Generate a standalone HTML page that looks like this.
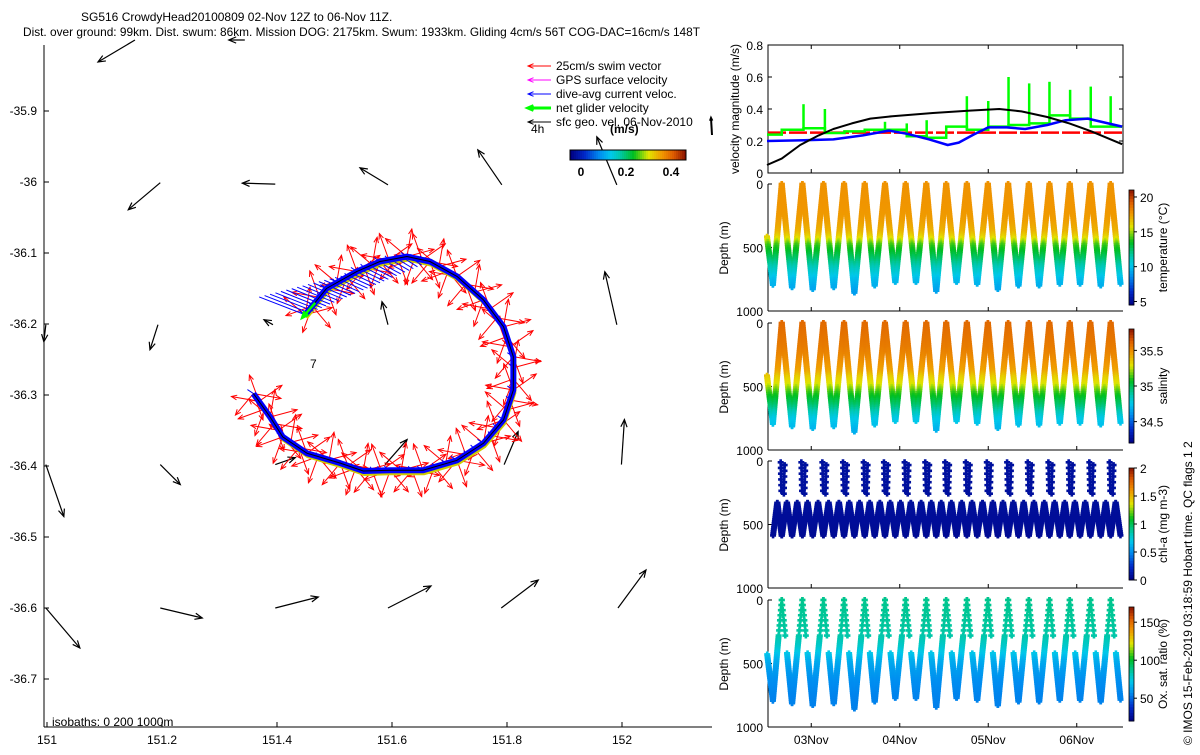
<!DOCTYPE html>
<html><head><meta charset="utf-8">
<style>
html,body{margin:0;padding:0;background:#fff;}
svg text{font-family:"Liberation Sans",sans-serif;font-size:12px;fill:#000;}
</style></head>
<body>
<svg id="root" width="1200" height="750" viewBox="0 0 1200 750" xmlns="http://www.w3.org/2000/svg">
<g id="static"></g>
</svg>
<script>
// ===== Data =====
const geoT=[0,4,9,14,18,23,28,34,45,55,63,69,76,82,88,96.3];
const geoV=[0.05,0.09,0.175,0.235,0.275,0.31,0.34,0.355,0.375,0.39,0.40,0.385,0.35,0.31,0.26,0.18];
const dacT=[0,10,18,26,33,38,44,49,52,56,60,65,70,76,81,87,96.3];
const dacV=[0.20,0.205,0.21,0.235,0.265,0.245,0.21,0.175,0.19,0.24,0.285,0.285,0.275,0.30,0.33,0.34,0.29];
const swimV=[0.252];
const netT=[0,4,9.9,15.7,21,26.5,32,37.9,43.3,48.6,54.2,60,65.5,71.1,76.6,82.2,87.8,93.2];
const netV=[0.24,0.27,0.28,0.25,0.26,0.27,0.27,0.23,0.22,0.29,0.27,0.29,0.30,0.31,0.36,0.34,0.29,0.29];
const spikeT=[9.9,15.7,32,37.9,43.3,54.2,60,65.5,71.1,76.6,82.2,87.8,93.2];
const spikeV=[0.43,0.40,0.32,0.31,0.33,0.48,0.45,0.60,0.56,0.57,0.52,0.54,0.48];
const surfT=[4.0,9.6,15.3,20.9,26.5,32.0,37.6,43.2,48.6,54.2,59.9,65.4,71.0,76.6,82.1,87.7,93.2];
const troughT=[1.6,6.8,12.4,18.1,23.7,29.2,34.8,40.4,45.9,51.4,57.0,62.6,68.2,73.8,79.4,84.9,90.5,95.9];
const troughD=[795,822,835,822,861,808,782,782,848,782,795,835,808,808,795,795,808,795];
const startD=415;
const profDepth=[0,200,300,380,430,480,550,650,750,870];
const tempVal=[17.8,17.7,17.5,17.0,16.0,14.2,13.2,11.5,10.0,9.0];
const salVal=[35.6,35.55,35.5,35.45,35.35,35.3,35.13,34.97,34.78,34.68];
const chlVal=[0.1,0.1,0.09,0.09,0.08,0.08,0.07,0.06,0.05,0.05];
const oxyVal=[88,86,84,78,72,66,62,58,56,55];
const trackLon=[151.449,151.486,151.539,151.579,151.626,151.666,151.713,151.759,151.794,151.811,151.811,151.794,151.759,151.713,151.654,151.597,151.550,151.510,151.452,151.410,151.388,151.359];
const trackLat=[-36.187,-36.150,-36.126,-36.112,-36.105,-36.112,-36.133,-36.166,-36.204,-36.246,-36.293,-36.335,-36.368,-36.392,-36.406,-36.406,-36.407,-36.396,-36.382,-36.359,-36.331,-36.298];
const swimAngles=[15,80,140,200,250,310,35,110,170,230,290,350];
const geoLon=[151.153,151.344,151.197,151.397,151.593,151.791,151.991,151.193,151.393,151.593,151.991,150.998,151.197,151.397,151.588,151.795,151.999,150.998,151.197,151.397,151.593,151.790,151.993,150.998];
const geoLat=[-35.8,-35.8,-36.001,-36.003,-36.004,-36.004,-36.004,-36.201,-36.201,-36.201,-36.201,-36.201,-36.398,-36.398,-36.398,-36.398,-36.398,-36.398,-36.600,-36.600,-36.600,-36.600,-36.600,-36.600];
const geoU=[-0.37,-0.16,-0.32,-0.33,-0.28,-0.24,-0.20,-0.08,-0.09,-0.06,-0.12,-0.02,0.20,0.20,0.22,0.14,0.03,0.18,0.42,0.43,0.43,0.37,0.28,0.34];
const geoVv=[-0.22,0.0,-0.27,0.01,0.17,0.35,0.48,-0.25,0.05,0.23,0.53,-0.17,-0.20,0.07,0.25,0.33,0.45,-0.52,-0.10,0.11,0.22,0.28,0.38,-0.40];
const latTicks=[-35.9,-36,-36.1,-36.2,-36.3,-36.4,-36.5,-36.6,-36.7];
const lonTicks=[151,151.2,151.4,151.6,151.8,152];
const dayTicks=[12,36,60,84];
const dayLabels=['03Nov','04Nov','05Nov','06Nov'];

// ===== helpers =====
const NS='http://www.w3.org/2000/svg';
const root=document.getElementById('static');
function mk(tag,attrs,parent){const e=document.createElementNS(NS,tag);for(const k in attrs)e.setAttribute(k,attrs[k]);(parent||root).appendChild(e);return e;}
function txt(x,y,s,attrs,parent){const e=mk('text',Object.assign({x:x,y:y},attrs||{}),parent);e.textContent=s;return e;}
const cmS=[0,0.12,0.25,0.35,0.42,0.55,0.68,0.8,0.9,1];
const cmC=[[0,0,128],[0,40,200],[0,140,240],[0,200,235],[0,200,180],[0,190,30],[225,230,0],[240,150,0],[220,90,0],[140,20,0]];
function jet(t){t=Math.max(0,Math.min(1,t));for(let i=1;i<cmS.length;i++){if(t<=cmS[i]){const f=(t-cmS[i-1])/(cmS[i]-cmS[i-1]);const a=cmC[i-1],b=cmC[i];return 'rgb('+Math.round(a[0]+f*(b[0]-a[0]))+','+Math.round(a[1]+f*(b[1]-a[1]))+','+Math.round(a[2]+f*(b[2]-a[2]))+')';}}return 'rgb(140,20,0)';}
function interp(xs,ys,x){if(x<=xs[0])return ys[0];for(let i=1;i<xs.length;i++){if(x<=xs[i]){const f=(x-xs[i-1])/(xs[i]-xs[i-1]);return ys[i-1]+f*(ys[i]-ys[i-1]);}}return ys[ys.length-1];}
function arrow(g,x1,y1,x2,y2,col,w,hl){const a=Math.atan2(y2-y1,x2-x1);const L=Math.hypot(x2-x1,y2-y1);const h=hl||Math.min(8,L*0.35);mk('line',{x1:x1,y1:y1,x2:x2,y2:y2,stroke:col,'stroke-width':w},g);mk('path',{d:'M'+(x2-h*Math.cos(a-0.4))+' '+(y2-h*Math.sin(a-0.4))+'L'+x2+' '+y2+'L'+(x2-h*Math.cos(a+0.4))+' '+(y2-h*Math.sin(a+0.4)),fill:'none',stroke:col,'stroke-width':w},g);}

// ===== titles =====
const title=mk('g',{});


txt(81,21,'SG516 CrowdyHead20100809 02-Nov 12Z to 06-Nov 11Z.',{},title);
txt(23,36,'Dist. over ground: 99km. Dist. swum: 86km. Mission DOG: 2175km. Swum: 1933km. Gliding 4cm/s 56T COG-DAC=16cm/s 148T',{textLength:677,lengthAdjust:'spacingAndGlyphs'},title);

// ===== map =====
const mapL=44,mapB=727,mapR=712,mapT=45;
const lonX=lon=>47+(lon-151)*575;
const latY=lat=>111+(-35.9-lat)*710;
const map=mk('g',{});


mk('line',{x1:mapL,y1:mapT,x2:mapL,y2:mapB,stroke:'#000','stroke-width':1},map);
mk('line',{x1:mapL,y1:mapB,x2:mapR,y2:mapB,stroke:'#000','stroke-width':1},map);
latTicks.forEach(v=>{const y=latY(v);mk('line',{x1:mapL,y1:y,x2:mapL+5,y2:y,stroke:'#000'},map);const t=txt(37,y+4,String(v),{'text-anchor':'end'},map);});
lonTicks.forEach(v=>{const x=lonX(v);mk('line',{x1:x,y1:mapB,x2:x,y2:mapB-5,stroke:'#000'},map);const t=txt(x,744,String(v),{'text-anchor':'middle'},map);});
txt(52,726,'isobaths: 0   200  1000m',{'xml:space':'preserve'},map);
txt(310,368,'7',{},map);
const geoG=mk('g',{},map);


for(let i=0;i<geoLon.length;i++){const x=lonX(geoLon[i]),y=latY(geoLat[i]);arrow(geoG,x,y,x+geoU[i]*100,y-geoVv[i]*100,'#000',1.2,8);}
const tp=trackLon.map((lo,i)=>[lonX(lo),latY(trackLat[i])]);
const samples=[];
for(let i=0;i<tp.length-1;i++){for(let k=0;k<3;k++){const f=k/3;samples.push([tp[i][0]+f*(tp[i+1][0]-tp[i][0]),tp[i][1]+f*(tp[i+1][1]-tp[i][1])]);}}
samples.push(tp[tp.length-1]);
const swimG=mk('g',{},map);


samples.forEach((p,i)=>{for(let k=0;k<3;k++){const a=swimAngles[(i*3+k)%swimAngles.length]*Math.PI/180;arrow(swimG,p[0],p[1],p[0]+28*Math.cos(a),p[1]-28*Math.sin(a),'#f00',1,6);}});
const dacG=mk('g',{},map);


const ptsStr=tp.map(p=>p[0]+','+p[1]).join(' ');
mk('polyline',{points:tp.map(p=>(p[0]+1)+','+(p[1]+3)).join(' '),fill:'none',stroke:'#cccc00','stroke-width':4},dacG);
// hatch region in the first part of the track
for(let i=0;i<30;i++){const f=i/30;const p=[tp[0][0]+f*(tp[5][0]-tp[0][0]),tp[0][1]+f*(tp[5][1]-tp[0][1])];const len=38*(1-f)+8;mk('line',{x1:p[0],y1:p[1],x2:p[0]-len,y2:p[1]-len*0.3-4,stroke:'#0000ff','stroke-width':1},dacG);}
samples.forEach((p,i)=>{mk('line',{x1:p[0],y1:p[1],x2:p[0]-6+(i%3)*2,y2:p[1]-4,stroke:'#0000ff','stroke-width':1},dacG);});
mk('polyline',{points:ptsStr,fill:'none',stroke:'#0000ff','stroke-width':6,'stroke-linejoin':'round'},dacG);
mk('polyline',{points:ptsStr,fill:'none',stroke:'#000','stroke-width':1},dacG);
arrow(dacG,tp[0][0]+10,tp[0][1]-12,tp[0][0]-3,tp[0][1]+3,'#00ff00',2.5,7);
const leg=mk('g',{},map);


const legItems=[['25cm/s swim vector','#f00',1],['GPS surface velocity','#f0f',1],['dive-avg current veloc.','#00f',1],['net glider velocity','#0f0',3],['sfc geo. vel. 06-Nov-2010','#000',1]];
legItems.forEach((it,i)=>{const y=66+i*14;arrow(leg,551,y,528,y,it[1],it[2],6);txt(556,y+4,it[0],{},leg);});
txt(531,133,'4h',{},leg);
txt(610,133,'(m/s)',{'font-weight':'bold'},leg);
arrow(leg,712,135,711,118,'#000',2,3);
const cb=mk('g',{},map);


for(let i=0;i<58;i++){mk('rect',{x:570+i*2,y:150,width:2.2,height:10,fill:jet(i/57)},cb);}
mk('rect',{x:570,y:150,width:116,height:10,fill:'none',stroke:'#000'},cb);
[['0',581],['0.2',626],['0.4',671]].forEach(t=>txt(t[1],176,t[0],{'text-anchor':'middle','font-weight':'bold','font-size':'13px'},cb));

// ===== right panels =====
const pL=768,pR=1123;
const tX=h=>767+h*3.6875;
const vp=mk('g',{});


const vT=45,vB=173;const vY=v=>vB-v*(vB-vT)/0.8;
mk('rect',{x:pL,y:vT,width:pR-pL,height:vB-vT,fill:'none',stroke:'#000'},vp);
[0,0.2,0.4,0.6,0.8].forEach(v=>{const y=vY(v);mk('line',{x1:pL,y1:y,x2:pL+4,y2:y,stroke:'#000'},vp);mk('line',{x1:pR,y1:y,x2:pR-4,y2:y,stroke:'#000'},vp);txt(763,y+5,String(v),{'text-anchor':'end'},vp);});
dayTicks.forEach(h=>{mk('line',{x1:tX(h),y1:vB,x2:tX(h),y2:vB-4,stroke:'#000'},vp);mk('line',{x1:tX(h),y1:vT,x2:tX(h),y2:vT+4,stroke:'#000'},vp);});
txt(0,0,'velocity magnitude (m/s)',{transform:'translate(739,109) rotate(-90)','text-anchor':'middle'},vp);
const swimLine=mk('line',{x1:pL,y1:vY(swimV[0]),x2:pR,y2:vY(swimV[0]),stroke:'#f00','stroke-width':2.5,'stroke-dasharray':'18 3'},vp);


let gd='';netT.forEach((t,i)=>{const x=tX(t),y=vY(netV[i]);if(i===0)gd+='M'+x+' '+y;else gd+='L'+x+' '+vY(netV[i-1])+'L'+x+' '+y;});gd+='L'+tX(96.3)+' '+vY(netV[netV.length-1]);
const netLine=mk('path',{d:gd,fill:'none',stroke:'#00ff00','stroke-width':2.5},vp);


spikeT.forEach((t,i)=>{const sp=mk('line',{x1:tX(t),y1:vY(interp(netT,netV,t-0.3)),x2:tX(t),y2:vY(spikeV[i]),stroke:'#00ff00','stroke-width':2.5},vp);});
const dl=mk('polyline',{points:dacT.map((t,i)=>tX(t)+','+vY(dacV[i])).join(' '),fill:'none',stroke:'#0000ff','stroke-width':2.5,'stroke-linejoin':'round'},vp);


const gl=mk('polyline',{points:geoT.map((t,i)=>tX(t)+','+vY(geoV[i])).join(' '),fill:'none',stroke:'#000','stroke-width':2,'stroke-linejoin':'round'},vp);



function depthPanel(name,top,vals,vmin,vmax,mode){
  const g=mk('g',{});
  
  
  const bot=top+127;const dY=d=>top+d*0.127;
  mk('line',{x1:pL,y1:top,x2:pL,y2:bot,stroke:'#000'},g);
  mk('line',{x1:pL,y1:bot,x2:pR,y2:bot,stroke:'#000'},g);
  [0,500,1000].forEach(d=>{mk('line',{x1:pL,y1:dY(d),x2:pL+4,y2:dY(d),stroke:'#000'},g);txt(763,dY(d)+5,String(d),{'text-anchor':'end'},g);});
  dayTicks.forEach(h=>mk('line',{x1:tX(h),y1:bot,x2:tX(h),y2:bot-4,stroke:'#000'},g));
  txt(0,0,'Depth (m)',{transform:'translate(728,'+(top+64)+') rotate(-90)','text-anchor':'middle'},g);
  const col=d=>jet((interp(profDepth,vals,d)-vmin)/(vmax-vmin));
  const pts=mk('g',{},g);
  
  
  function dot(x,y,c){mk('path',{d:'M'+(x-3)+' '+y+'h6M'+x+' '+(y-3)+'v6',stroke:c,'stroke-width':2.6},pts);}
  if(mode==='chl'){
    const zz=[];for(let i=0;i<troughT.length;i++){zz.push([troughT[i],596]);if(i<surfT.length){zz.push([(troughT[i]+surfT[i])/2,320]);zz.push([surfT[i],596]);zz.push([(surfT[i]+troughT[i+1])/2,320]);}}
    for(let i=0;i<zz.length-1;i++){const a=zz[i],b=zz[i+1];for(let d=330;d<=596;d+=16){const f=(d-a[1])/(b[1]-a[1]);const tt=a[0]+f*(b[0]-a[0]);dot(tX(tt),dY(d),col(d));}}
    surfT.forEach(t=>{for(let d=10;d<280;d+=45){dot(tX(t-0.3+d/1200),dY(d),col(d));dot(tX(t+0.8-d/1000),dY(d+22),col(d));}});
    return g;
  }
  const seq=[[0,startD]];troughT.forEach((t,i)=>{seq.push([t,troughD[i]]);if(i<surfT.length)seq.push([surfT[i],0]);});
  for(let i=0;i<seq.length-1;i++){const a=seq[i],b=seq[i+1];const d0=Math.min(a[1],b[1]),d1=Math.max(a[1],b[1]);
    for(let d=d0;d<=d1;){if(!(mode==='oxy'&&d>280&&d<420&&i%2===0))dot(tX(a[0]+(d-a[1])/(b[1]-a[1])*(b[0]-a[0])),dY(d),col(d));d+=(mode==='oxy'&&d<280?40:14);}}
  return g;
}
function colorbar(name,top,bot,vmin,vmax,ticks,label){
  const g=mk('g',{});
  
  
  const n=40;for(let i=0;i<n;i++){mk('rect',{x:1129,y:bot-(i+1)*(bot-top)/n,width:5,height:(bot-top)/n+0.5,fill:jet((i+0.5)/n)},g);}
  mk('rect',{x:1129,y:top,width:5,height:bot-top,fill:'none',stroke:'#000','stroke-width':0.8},g);
  ticks.forEach(v=>{const y=bot-(v-vmin)/(vmax-vmin)*(bot-top);mk('line',{x1:1134,y1:y,x2:1137,y2:y,stroke:'#000'},g);txt(1140,y+5,String(v),{},g);});
  txt(0,0,label,{transform:'translate(1167,'+((top+bot)/2)+') rotate(-90)','text-anchor':'middle'},g);
}
depthPanel('temperature-section',184,tempVal,4.5,21,'v');
colorbar('temperature-colorbar',190,305,4.5,21,[5,10,15,20],'temperature (°C)');
depthPanel('salinity-section',323,salVal,34.2,35.8,'v');
colorbar('salinity-colorbar',329,443,34.2,35.8,[34.5,35,35.5],'salinity');
depthPanel('chlorophyll-section',461,chlVal,0,2,'chl');
colorbar('chlorophyll-colorbar',468,580,0,2,[0,0.5,1,1.5,2],'chl-a (mg m-3)');
depthPanel('oxygen-section',600,oxyVal,20,170,'oxy');
colorbar('oxygen-colorbar',607,721,20,170,[50,100,150],'Ox. sat. ratio (%)');
dayTicks.forEach((h,i)=>{const t=txt(tX(h),744,dayLabels[i],{'text-anchor':'middle'});});
const cr=txt(0,0,'© IMOS 15-Feb-2019 03:18:59 Hobart time. QC flags 1  2',{transform:'translate(1192,745) rotate(-90)','xml:space':'preserve'});


</script>
</body></html>
